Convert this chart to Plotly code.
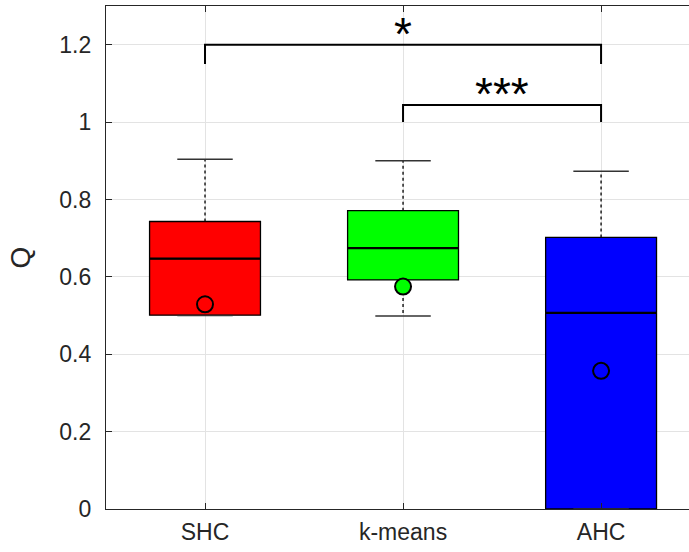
import plotly.graph_objects as go

# ---- data ----
categories = ["SHC", "k-means", "AHC"]
box_colors = ["#ff0000", "#00ff00", "#0000ff"]
q1 = [0.501, 0.592, 0.0]
median = [0.647, 0.674, 0.507]
q3 = [0.743, 0.771, 0.702]
lower_whisker = [0.500, 0.499, 0.0]
upper_whisker = [0.904, 0.900, 0.873]
means = [0.529, 0.575, 0.357]

# significance comparisons: (group a index, group b index, bar level, drop, label)
comp_a = [0, 1]
comp_b = [2, 2]
comp_level = [1.2, 1.044]
comp_drop = [0.05, 0.044]
comp_label = ["*", "***"]

y_tickvals = [0, 0.2, 0.4, 0.6, 0.8, 1.0, 1.2]

pos = [1, 2, 3]
box_w = 0.56
cap_w = 0.28
ink = "#262626"

fig = go.Figure()

# boxes (no plotly whiskers: fences set to quartiles)
for i, c in enumerate(categories):
    fig.add_trace(go.Box(
        x=[pos[i]], q1=[q1[i]], median=[median[i]], q3=[q3[i]],
        lowerfence=[q1[i]], upperfence=[q3[i]],
        width=box_w, fillcolor=box_colors[i],
        line=dict(color="black", width=1.3),
        whiskerwidth=0, showlegend=False, hoverinfo="skip",
    ))

# whiskers (dotted)
wx, wy = [], []
for i in range(3):
    wx += [pos[i], pos[i], None, pos[i], pos[i], None]
    wy += [q3[i], upper_whisker[i], None, q1[i], lower_whisker[i], None]
fig.add_trace(go.Scatter(x=wx, y=wy, mode="lines",
                         line=dict(color="black", width=1.3, dash="dot"),
                         showlegend=False, hoverinfo="skip"))

# medians (thicker)
mx, my = [], []
for i in range(3):
    mx += [pos[i] - box_w / 2, pos[i] + box_w / 2, None]
    my += [median[i], median[i], None]
fig.add_trace(go.Scatter(x=mx, y=my, mode="lines",
                         line=dict(color="black", width=2.2),
                         showlegend=False, hoverinfo="skip"))

# caps
cx, cy = [], []
for i in range(3):
    for v in (upper_whisker[i], lower_whisker[i]):
        cx += [pos[i] - cap_w / 2, pos[i] + cap_w / 2, None]
        cy += [v, v, None]
fig.add_trace(go.Scatter(x=cx, y=cy, mode="lines",
                         line=dict(color="#333333", width=1.5),
                         showlegend=False, hoverinfo="skip"))

# means
fig.add_trace(go.Scatter(x=pos, y=means, mode="markers",
                         marker=dict(size=16, color=box_colors,
                                     line=dict(color="black", width=2)),
                         showlegend=False, hoverinfo="skip"))

# significance brackets
for a, b, lv, d, lab in zip(comp_a, comp_b, comp_level, comp_drop, comp_label):
    fig.add_trace(go.Scatter(
        x=[pos[a], pos[a], pos[b], pos[b]],
        y=[lv - d, lv, lv, lv - d], mode="lines",
        line=dict(color="black", width=2),
        showlegend=False, hoverinfo="skip"))
    fig.add_annotation(
        x=(pos[a] + pos[b]) / 2, y=lv, text=lab, showarrow=False,
        xanchor="center", yanchor="bottom", yshift=-17,
        font=dict(family="Liberation Sans", size=46, color="black"))

fig.update_layout(
    width=689, height=552,
    margin=dict(l=106, r=0, t=6, b=43),
    paper_bgcolor="white", plot_bgcolor="white",
    font=dict(family="Liberation Sans", size=23, color=ink),
)
fig.update_xaxes(
    range=[0.5, 3.444], tickvals=pos, ticktext=categories,
    showgrid=True, gridcolor="#e3e3e3", gridwidth=1,
    showline=True, linecolor=ink, linewidth=1.3, mirror="ticks",
    ticks="inside", ticklen=6, tickcolor=ink, zeroline=False,
    ticklabelstandoff=2,
)
fig.update_yaxes(
    range=[0, 1.3], tickvals=y_tickvals,
    showgrid=True, gridcolor="#e3e3e3", gridwidth=1,
    showline=True, linecolor=ink, linewidth=1.3,
    ticks="inside", ticklen=6, tickcolor=ink, zeroline=False,
    ticklabelstandoff=9,
    title=dict(text="Q", standoff=20),
)

fig.write_html("out.html")
